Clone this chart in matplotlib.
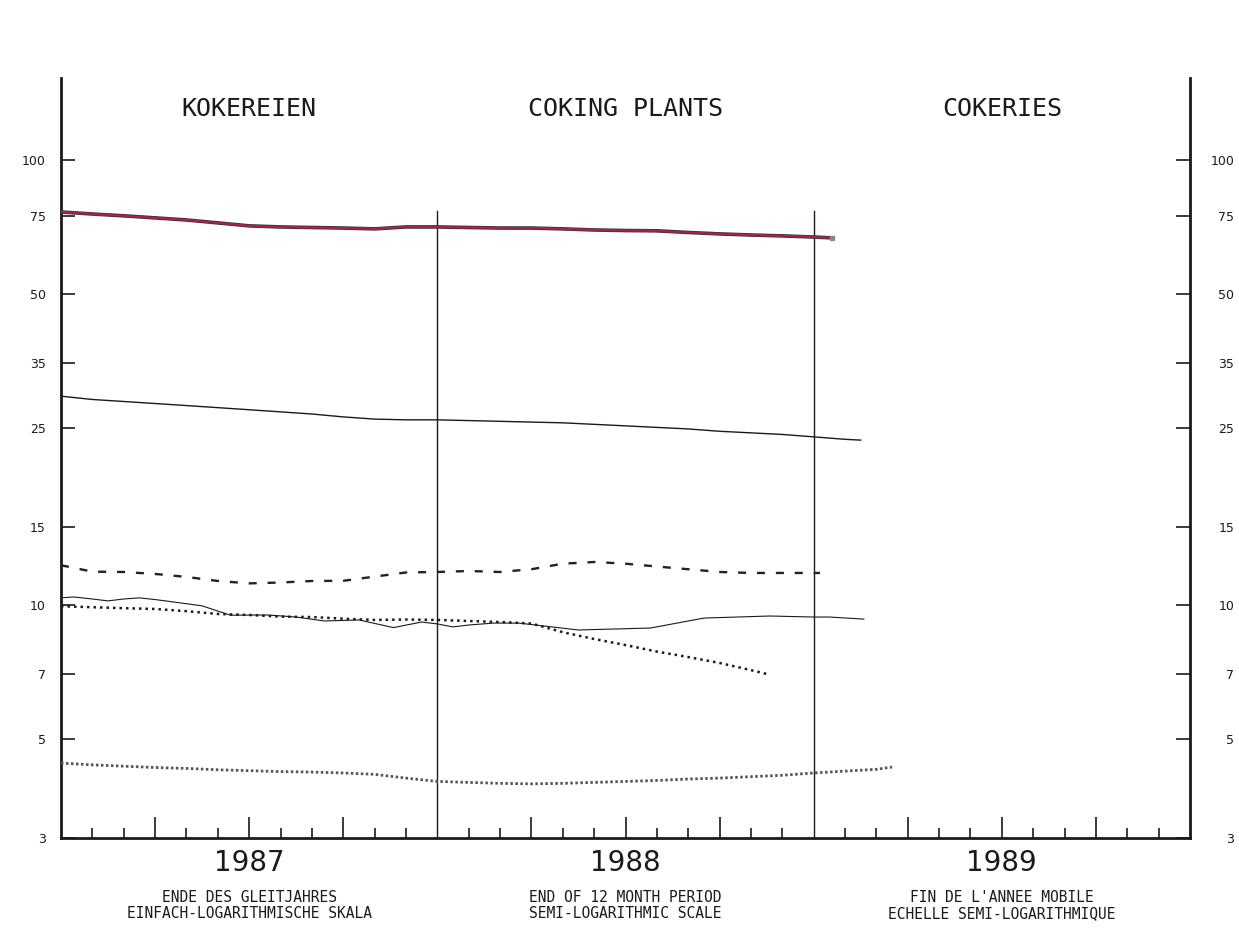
import matplotlib
matplotlib.use("Agg")
import matplotlib.pyplot as plt
from matplotlib.ticker import FixedLocator, NullLocator, NullFormatter
import matplotlib.transforms as mtransforms

# ---------------- data (months from start of 1987) ----------------
x_red = list(range(25)) + [24.6]
v_red = [76.5, 75.7, 75.0, 74.2, 73.4, 72.3, 71.2, 70.8, 70.6, 70.4, 70.1, 70.8, 70.8,
         70.6, 70.4, 70.4, 70.1, 69.7, 69.5, 69.4, 68.8, 68.3, 67.9, 67.6, 67.2, 66.9]

x_black = list(range(26)) + [25.5]
v_black = [29.5, 29.0, 28.7, 28.4, 28.1, 27.8, 27.5, 27.2, 26.9, 26.5, 26.2, 26.1, 26.1,
           26.0, 25.9, 25.8, 25.7, 25.5, 25.3, 25.1, 24.9, 24.6, 24.4, 24.2, 23.9, 23.6, 23.5]

x_dash = list(range(24)) + [24.2]
v_dash = [12.3, 11.9, 11.88, 11.76, 11.58, 11.34, 11.2, 11.25, 11.34, 11.35, 11.6, 11.85,
          11.88, 11.94, 11.88, 12.05, 12.4, 12.51, 12.4, 12.22, 12.05, 11.88, 11.82, 11.82, 11.82]

x_cross = list(range(23)) + [22.5]
v_cross = [9.95, 9.9, 9.85, 9.81, 9.7, 9.56, 9.51, 9.43, 9.41, 9.33, 9.27, 9.29, 9.27,
           9.22, 9.17, 9.1, 8.7, 8.4, 8.14, 7.87, 7.65, 7.42, 7.15, 7.01]

x_thin = [0, 0.4, 1, 1.5, 2, 2.5, 3, 3.6, 4.5, 5.4, 6.6, 7.5, 8.4, 9.5, 10.6, 11.5, 12,
          12.5, 13, 13.8, 14.6, 16.5, 18.8, 20.5, 22.6, 24, 24.5, 25.6]
v_thin = [10.39, 10.44, 10.33, 10.23, 10.33, 10.39, 10.3, 10.17, 9.97, 9.5, 9.51, 9.41,
          9.22, 9.27, 8.91, 9.17, 9.08, 8.94, 9.03, 9.12, 9.12, 8.80, 8.89, 9.36, 9.46,
          9.41, 9.41, 9.31]

x_bottom = list(range(27)) + [26.5]
v_bottom = [4.42, 4.38, 4.35, 4.32, 4.3, 4.27, 4.25, 4.23, 4.22, 4.2, 4.17, 4.09, 4.02,
            4.0, 3.98, 3.97, 3.98, 4.0, 4.02, 4.04, 4.07, 4.09, 4.12, 4.15, 4.2, 4.24,
            4.28, 4.33]

y_ticks = [3, 5, 7, 10, 15, 25, 35, 50, 75, 100]
y_tick_labels = ["3", "5", "7", "10", "15", "25", "35", "50", "75", "100"]
years = ["1987", "1988", "1989"]
titles = ["KOKEREIEN", "COKING PLANTS", "COKERIES"]
sub1 = ["ENDE DES GLEITJAHRES", "END OF 12 MONTH PERIOD", "FIN DE L'ANNEE MOBILE"]
sub2 = ["EINFACH-LOGARITHMISCHE SKALA", "SEMI-LOGARITHMIC SCALE", "ECHELLE SEMI-LOGARITHMIQUE"]

# ---------------- figure ----------------
fig = plt.figure(figsize=(12.39, 9.33), dpi=100)
ax = fig.add_axes([61 / 1239, 95 / 933, 1129 / 1239, 760 / 933])
ax.set_yscale("log")
ax.set_xlim(0, 36)
ax.set_ylim(3, 153)

ink = "#1a1a1a"

# year boundary lines
for b in (12, 24):
    ax.plot([b, b], [3, 77], color=ink, lw=1.0, zorder=2)

# series
ax.plot(x_red, v_red, color="#333333", lw=2.6, solid_capstyle="butt", zorder=3)
ax.plot(x_red, v_red, color="#a3234f", lw=1.6, zorder=4)
ax.plot(x_red[-1:], v_red[-1:], "s", color="#888888", ms=3.5, zorder=5)

ax.plot(x_black, v_black, color=ink, lw=1.0, zorder=3)
ax.plot(x_thin, v_thin, color=ink, lw=0.8, zorder=3)
ax.plot(x_dash, v_dash, color="#222222", lw=1.7, linestyle=(0, (3.4, 4.6)), zorder=3)
ax.plot(x_cross, v_cross, color=ink, lw=1.8, linestyle=(0, (1.0, 1.6)), zorder=3)
ax.plot(x_bottom, v_bottom, color="#555555", lw=2.0, linestyle=(0, (0.9, 0.9)), zorder=3)

# spines
ax.spines["top"].set_visible(False)
for s in ("left", "right", "bottom"):
    ax.spines[s].set_linewidth(2.0)
    ax.spines[s].set_color(ink)

# y ticks
ax.yaxis.set_major_locator(FixedLocator(y_ticks))
ax.yaxis.set_minor_locator(NullLocator())
ax.set_yticklabels(y_tick_labels)
ax.tick_params(axis="y", which="major", direction="in", length=10, width=1.2,
               left=True, right=False, labelleft=True, labelright=False,
               pad=11, labelsize=9, colors=ink)

ax2 = ax.twinx()
ax2.set_yscale("log")
ax2.set_ylim(ax.get_ylim())
ax2.yaxis.set_major_locator(FixedLocator(y_ticks))
ax2.yaxis.set_minor_locator(NullLocator())
ax2.set_yticklabels(y_tick_labels)
ax2.tick_params(axis="y", which="major", direction="in", length=10, width=1.2,
                pad=32, labelsize=9, colors=ink)
for lab in ax2.get_yticklabels():
    lab.set_horizontalalignment("right")
for s in ax2.spines.values():
    s.set_visible(False)

# x ticks
quarters = [m for m in range(1, 36) if m % 3 == 0 and m % 12 != 0]
months = [m for m in range(1, 36) if m % 3 != 0]
ax.xaxis.set_major_locator(FixedLocator(quarters))
ax.xaxis.set_minor_locator(FixedLocator(months))
ax.xaxis.set_major_formatter(NullFormatter())
ax.tick_params(axis="x", which="major", direction="in", length=15, width=1.2, colors=ink)
ax.tick_params(axis="x", which="minor", direction="in", length=7, width=1.2, colors=ink)

# texts
trans = mtransforms.blended_transform_factory(ax.transData, fig.transFigure)
for i in range(3):
    xc = 12 * i + 6
    ax.text(xc, 1 - 109 / 933, titles[i], transform=trans, ha="center", va="center",
            fontsize=18, family="DejaVu Sans Mono", color=ink)
    ax.text(xc, 1 - 863 / 933, years[i], transform=trans, ha="center", va="center",
            fontsize=20, family="DejaVu Sans", color=ink)
    ax.text(xc, 1 - 898 / 933, sub1[i], transform=trans, ha="center", va="center",
            fontsize=10.5, family="DejaVu Sans Mono", color=ink)
    ax.text(xc, 1 - 914 / 933, sub2[i], transform=trans, ha="center", va="center",
            fontsize=10.5, family="DejaVu Sans Mono", color=ink)

fig.savefig("out.png", dpi=100)
